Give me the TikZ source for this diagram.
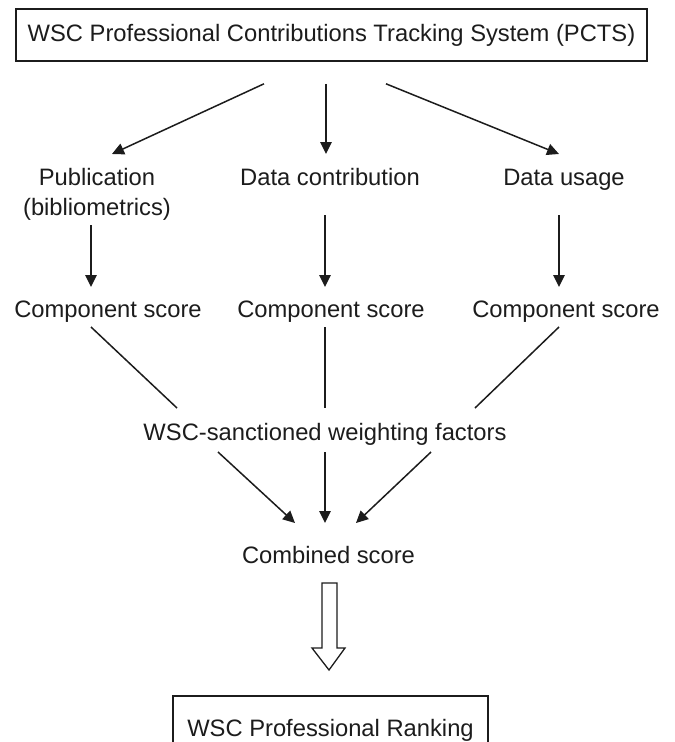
\documentclass[tikz,border=0pt]{standalone}
\usepackage{fontspec}
\setmainfont{Liberation Sans}
\usetikzlibrary{arrows.meta}
\definecolor{ink}{RGB}{28,28,28}
\tikzset{
  lbl/.style={anchor=base, inner sep=0pt, text=ink, font=\fontsize{23.75}{30}\selectfont},
  boxed/.style={draw=ink, line width=1.6pt, text=ink, inner sep=0pt,
                font=\fontsize{23.75}{30}\selectfont},
  flow/.style={draw=ink, line width=1.5pt, -{Triangle[length=12pt,width=11.5pt]}},
  plain/.style={draw=ink, line width=1.5pt},
  hollow/.style={draw=ink, line width=1.3pt, fill=white, line join=miter}
}
\begin{document}
\begin{tikzpicture}[x=1pt, y=-1pt]
\useasboundingbox (0,0) rectangle (675,742);
\begin{scope}
\clip (0,0) rectangle (675,742);

% boxes and labels (base of the two-line label is its last line)
\node[boxed, minimum width=631pt, minimum height=52pt] (top) at (331.5,35)
  {WSC Professional Contributions Tracking System (PCTS)};
\node[lbl, align=center] (pub) at (97,215) {Publication\\(bibliometrics)};
\node[lbl] (dc) at (330,185) {Data contribution};
\node[lbl] (du) at (564,185) {Data usage};
\node[lbl] (cs1) at (108,317) {Component score};
\node[lbl] (cs2) at (331,317) {Component score};
\node[lbl] (cs3) at (566,317) {Component score};
\node[lbl] (wf) at (325,440) {WSC-sanctioned weighting factors};
\node[lbl] (cb) at (328.5,563) {Combined score};
\node[boxed, anchor=north, minimum width=315pt, text height=17pt, text depth=5pt,
      inner ysep=24pt] (rank) at (330.5,695) {WSC Professional Ranking};

% tracking system to the three contribution types
\draw[flow] ([xshift=-67.5pt,yshift=-22pt]top.south) -- ([xshift=15pt,yshift=61pt]pub.base);
\draw[flow] ([xshift=-5.5pt,yshift=-22pt]top.south) -- ([xshift=-4pt,yshift=31pt]dc.base);
\draw[flow] ([xshift=54.5pt,yshift=-22pt]top.south) -- ([xshift=-5pt,yshift=31pt]du.base);

% contribution types to component scores
\draw[flow] ([xshift=-6pt,yshift=-10pt]pub.base) -- ([xshift=-17pt,yshift=30pt]cs1.base);
\draw[flow] ([xshift=-5pt,yshift=-30pt]dc.base) -- ([xshift=-6pt,yshift=30pt]cs2.base);
\draw[flow] ([xshift=-5pt,yshift=-30pt]du.base) -- ([xshift=-7pt,yshift=30pt]cs3.base);

% component scores into the weighting factors
\draw[plain] ([xshift=-17pt,yshift=-10pt]cs1.base) -- ([xshift=-148pt,yshift=32pt]wf.base);
\draw[plain] ([xshift=-6pt,yshift=-10pt]cs2.base) -- ([xshift=0pt,yshift=32pt]wf.base);
\draw[plain] ([xshift=-7pt,yshift=-10pt]cs3.base) -- ([xshift=150pt,yshift=32pt]wf.base);

% weighted scores to the combined score
\draw[flow] ([xshift=-107pt,yshift=-12pt]wf.base) -- ([xshift=-33.5pt,yshift=40pt]cb.base);
\draw[flow] ([xshift=0pt,yshift=-12pt]wf.base) -- ([xshift=-3.5pt,yshift=40pt]cb.base);
\draw[flow] ([xshift=106pt,yshift=-12pt]wf.base) -- ([xshift=27.5pt,yshift=40pt]cb.base);

% hollow block arrow down to the ranking
\draw[hollow] ([xshift=-6.5pt,yshift=-20pt]cb.base) -- ++(0,65) -- ++(-10,0)
  -- ++(17,22) -- ++(16,-22) -- ++(-8,0) -- ++(0,-65) -- cycle;
\end{scope}
\end{tikzpicture}
\end{document}
